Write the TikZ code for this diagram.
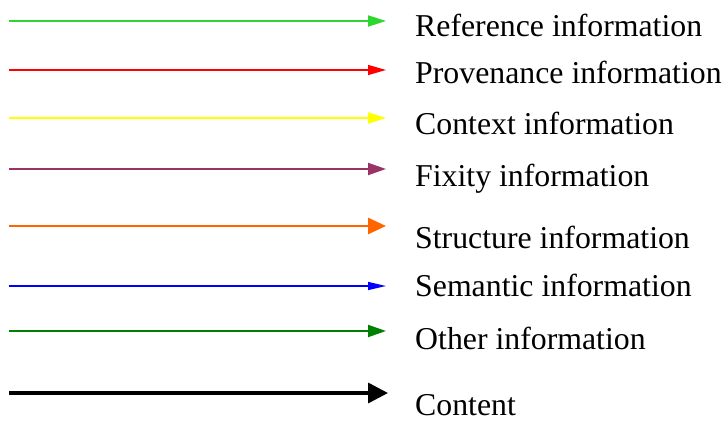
\documentclass[tikz,border=0pt]{standalone}
\usepackage{fontspec}
\setmainfont{Liberation Serif}
\usetikzlibrary{arrows.meta}
\definecolor{refgreen}{RGB}{45,215,45}
\definecolor{provred}{RGB}{255,0,0}
\definecolor{ctxyellow}{RGB}{255,255,0}
\definecolor{fixpurple}{RGB}{153,51,102}
\definecolor{structorange}{RGB}{255,102,0}
\definecolor{semblue}{RGB}{0,0,255}
\definecolor{othergreen}{RGB}{0,128,0}
\begin{document}
\begin{tikzpicture}[x=1pt,y=1pt,
  legendtext/.style={anchor=base west,inner sep=0pt,font=\fontsize{31.8}{38}\selectfont},
  legendarrow/.style args={#1/#2/#3/#4}{draw=#1,line width=#2,
    -{Triangle[length=#3,width=#4]}}]
\useasboundingbox (0,0) rectangle (725,423);
% legend rows: start point, tip point, label
\coordinate (s1) at (9,402); \coordinate (e1) at (386,402);
\coordinate (s2) at (9,353); \coordinate (e2) at (386,353);
\coordinate (s3) at (9,305); \coordinate (e3) at (386,305);
\coordinate (s4) at (9,254); \coordinate (e4) at (386,254);
\coordinate (s5) at (9,197); \coordinate (e5) at (386,197);
\coordinate (s6) at (9,137); \coordinate (e6) at (386,137);
\coordinate (s7) at (9,92);  \coordinate (e7) at (386,92);
\coordinate (s8) at (9,30);  \coordinate (e8) at (388,30);
\draw[legendarrow={refgreen/2pt/18pt/11pt}] (s1) -- (e1);
\draw[legendarrow={provred/1.4pt/18pt/10pt}] (s2) -- (e2);
\draw[legendarrow={ctxyellow/2pt/18pt/11pt}] (s3) -- (e3);
\draw[legendarrow={fixpurple/2pt/18pt/12pt}] (s4) -- (e4);
\draw[legendarrow={structorange/2.8pt/18pt/16pt}] (s5) -- (e5);
\draw[legendarrow={semblue/1.3pt/18pt/8pt}] (s6) -- (e6);
\draw[legendarrow={othergreen/2pt/18pt/12pt}] (s7) -- (e7);
\draw[legendarrow={black/3.5pt/20pt/20pt}] (s8) -- (e8);
\node[legendtext] (t1) at (415,386) {Reference information};
\node[legendtext] (t2) at (415,339) {Provenance information};
\node[legendtext] (t3) at (415,288) {Context information};
\node[legendtext] (t4) at (415,236) {Fixity information};
\node[legendtext] (t5) at (415,174) {Structure information};
\node[legendtext] (t6) at (415,126) {Semantic information};
\node[legendtext] (t7) at (415,74)  {Other information};
\node[legendtext] (t8) at (415,7.5) {Content};
\end{tikzpicture}
\end{document}
